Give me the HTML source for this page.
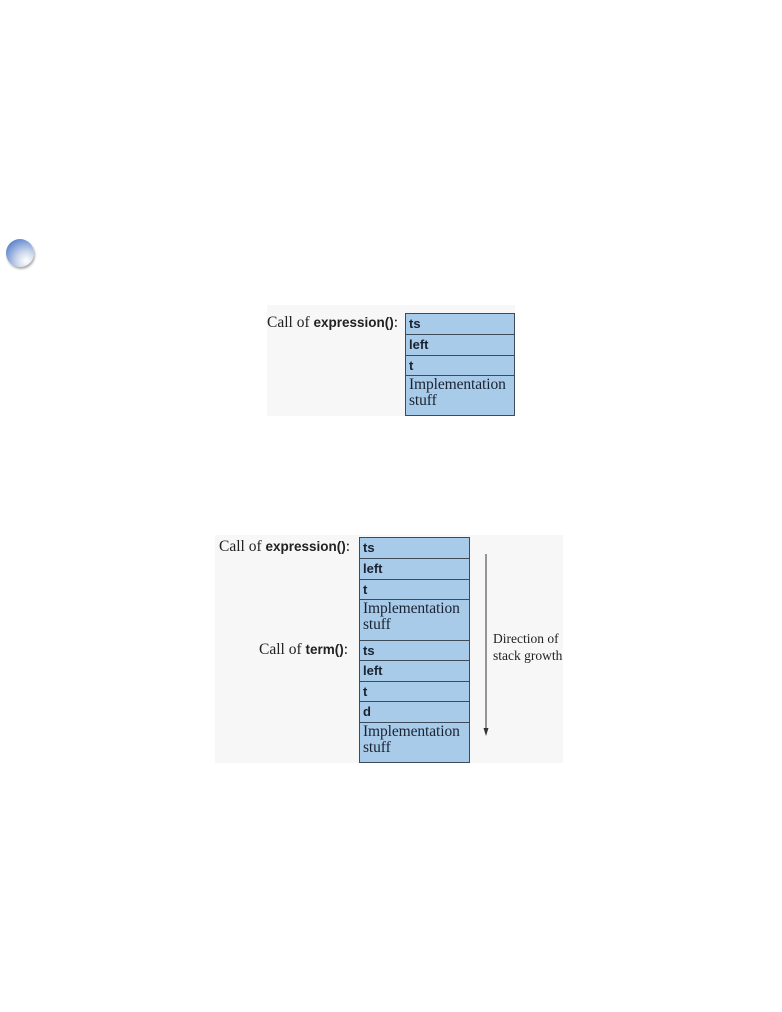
<!DOCTYPE html>
<html><head><style>
body{margin:0;width:782px;height:1012px;background:#fff;position:relative;overflow:hidden;font-family:"Liberation Serif",serif}
.bg{position:absolute;background:#f7f7f7}
.c{position:absolute;background:#a8cbea;border:1px solid #3c4a5a;box-sizing:border-box;font-size:14px;color:#1a2230;padding-left:3px;line-height:19px}
.b{font-family:"Liberation Sans",sans-serif;font-weight:bold;font-size:13px}
.i{font-size:15.5px;line-height:16px;padding-top:1px;letter-spacing:-0.1px}
.l{position:absolute;font-size:15.5px;color:#222;white-space:nowrap}
.l b{font-family:"Liberation Sans",sans-serif;font-size:13.5px}
</style></head><body>
<div style="position:absolute;left:6px;top:239px;width:28px;height:28px;border-radius:50%;background:radial-gradient(circle at 72% 78%,#fff 0%,#d0daee 30%,#2f64c0 100%);box-shadow:1px 2px 2px #aaa"></div>

<div class="bg" style="left:267px;top:305px;width:248px;height:111px"></div>
<div class="l" style="left:267px;top:314px">Call of <b>expression()</b>:</div>
<div class="c b" style="left:405px;top:313px;width:110px;height:22px">ts</div>
<div class="c b" style="left:405px;top:334px;width:110px;height:22px">left</div>
<div class="c b" style="left:405px;top:355px;width:110px;height:21px">t</div>
<div class="c i" style="left:405px;top:375px;width:110px;height:41px">Implementation<br>stuff</div>

<div class="bg" style="left:215px;top:535px;width:348px;height:228px"></div>
<div class="l" style="left:219px;top:538px">Call of <b>expression()</b>:</div>
<div class="l" style="left:259px;top:641px">Call of <b>term()</b>:</div>
<div class="c b" style="left:359px;top:537px;width:111px;height:22px">ts</div>
<div class="c b" style="left:359px;top:558px;width:111px;height:22px">left</div>
<div class="c b" style="left:359px;top:579px;width:111px;height:21px">t</div>
<div class="c i" style="left:359px;top:599px;width:111px;height:42px">Implementation<br>stuff</div>
<div class="c b" style="left:359px;top:640px;width:111px;height:21px">ts</div>
<div class="c b" style="left:359px;top:660px;width:111px;height:22px">left</div>
<div class="c b" style="left:359px;top:681px;width:111px;height:21px">t</div>
<div class="c b" style="left:359px;top:701px;width:111px;height:22px">d</div>
<div class="c i" style="left:359px;top:722px;width:111px;height:41px">Implementation<br>stuff</div>
<svg style="position:absolute;left:480px;top:550px" width="12" height="190"><line x1="6" y1="4" x2="6" y2="180" stroke="#333" stroke-width="1"/><path d="M3.5 178 L8.5 178 L6 186 Z" fill="#333"/></svg>
<div class="l" style="left:493px;top:630px;font-size:13.5px;line-height:17px">Direction of<br>stack growth</div>
</body></html>
